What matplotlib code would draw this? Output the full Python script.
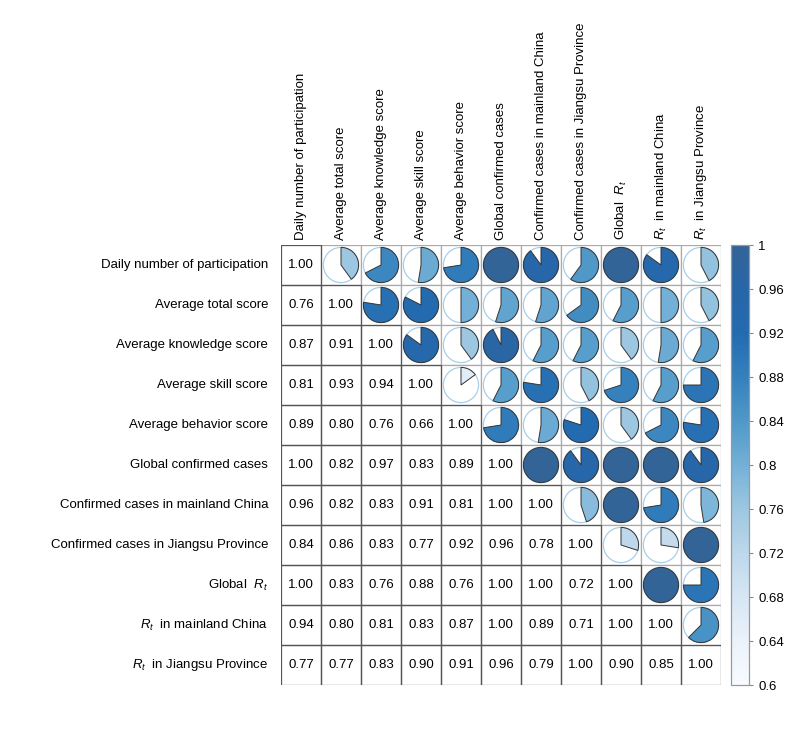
import numpy as np
import matplotlib
matplotlib.use("Agg")
import matplotlib.pyplot as plt
from matplotlib.patches import Wedge, Circle, Rectangle
from matplotlib.colors import LinearSegmentedColormap, Normalize
import matplotlib.cm as cm

plt.rcParams['font.family'] = ['Liberation Sans', 'DejaVu Sans']
plt.rcParams['mathtext.fontset'] = 'custom'
plt.rcParams['mathtext.rm'] = 'Liberation Sans'
plt.rcParams['mathtext.it'] = 'Liberation Sans:italic'

labels = [
    "Daily number of participation",
    "Average total score",
    "Average knowledge score",
    "Average skill score",
    "Average behavior score",
    "Global confirmed cases",
    "Confirmed cases in mainland China",
    "Confirmed cases in Jiangsu Province",
    r"Global  $R_t$",
    r"$R_t$  in mainland China",
    r"$R_t$  in Jiangsu Province",
]

lower_rows = [
    [],
    [0.76],
    [0.87, 0.91],
    [0.81, 0.93, 0.94],
    [0.89, 0.80, 0.76, 0.66],
    [1.00, 0.82, 0.97, 0.83, 0.89],
    [0.96, 0.82, 0.83, 0.91, 0.81, 1.00],
    [0.84, 0.86, 0.83, 0.77, 0.92, 0.96, 0.78],
    [1.00, 0.83, 0.76, 0.88, 0.76, 1.00, 1.00, 0.72],
    [0.94, 0.80, 0.81, 0.83, 0.87, 1.00, 0.89, 0.71, 1.00],
    [0.77, 0.77, 0.83, 0.90, 0.91, 0.96, 0.79, 1.00, 0.90, 0.85],
]

cbar_ticks = [0.6, 0.64, 0.68, 0.72, 0.76, 0.8, 0.84, 0.88, 0.92, 0.96, 1.0]
cbar_ticklabels = ["0.6", "0.64", "0.68", "0.72", "0.76", "0.8", "0.84", "0.88", "0.92", "0.96", "1"]

n = len(labels)
M = np.eye(n)
for i, row in enumerate(lower_rows):
    for j, v in enumerate(row):
        M[i, j] = v
        M[j, i] = v

vmin, vmax = 0.6, 1.0
stops = [
    (0.00, "#F7FBFF"), (0.10, "#EAF2FA"), (0.20, "#D6E6F4"), (0.30, "#BCD7EB"),
    (0.40, "#9DC7E1"), (0.50, "#74B0D7"), (0.60, "#4F98C8"), (0.70, "#3581BD"),
    (0.80, "#236BB0"), (0.90, "#2766A8"), (1.00, "#336497"),
]
cmap = LinearSegmentedColormap.from_list("corrblues", stops)
norm = Normalize(vmin, vmax)

W, H = 800, 733
fig = plt.figure(figsize=(W / 100, H / 100), dpi=100)
gx0, gy0, gsz = 281, 245, 440
ax = fig.add_axes([gx0 / W, (H - gy0 - gsz) / H, gsz / W, gsz / H])
ax.set_xlim(0, n)
ax.set_ylim(0, n)
ax.axis('off')

fs = 9.5
# upper cells first (light edges), then lower (dark edges)
for i in range(n):
    for j in range(n):
        if j > i:
            y = n - i - 1
            ax.add_patch(Rectangle((j, y), 1, 1, facecolor='white', edgecolor='#aaaaaa', lw=0.9, zorder=1))
for i in range(n):
    for j in range(n):
        if j <= i:
            y = n - i - 1
            ax.add_patch(Rectangle((j, y), 1, 1, facecolor='none', edgecolor='#555555', lw=0.9, zorder=2))

for i in range(n):
    for j in range(n):
        cx, cy = j + 0.5, n - i - 0.5
        v = M[i, j]
        if j <= i:
            ax.text(cx, cy, f"{v:.2f}", ha='center', va='center', fontsize=fs, zorder=3)
        else:
            r = 0.44
            f = (v - vmin) / (vmax - vmin)
            ax.add_patch(Circle((cx, cy), r, facecolor='white', edgecolor='#a9cfe6', lw=0.9, zorder=3))
            if f > 0:
                ax.add_patch(Wedge((cx, cy), r, 90 - 360 * f, 90, facecolor=cmap(norm(v)),
                                   edgecolor='#333333', lw=0.7, zorder=4))

for i, lab in enumerate(labels):
    ax.text(-0.32, n - i - 0.5, lab, ha='right', va='center', fontsize=fs)
    ax.text(i + 0.5, n + 0.12, lab, ha='center', va='bottom', rotation=90, fontsize=fs)

cax = fig.add_axes([731 / W, (H - gy0 - gsz) / H, 18 / W, gsz / H])
sm = cm.ScalarMappable(norm=norm, cmap=cmap)
cb = fig.colorbar(sm, cax=cax)
cb.set_ticks(cbar_ticks)
cb.set_ticklabels(cbar_ticklabels)
cb.outline.set_edgecolor('#999999')
cb.outline.set_linewidth(0.9)
cax.tick_params(labelsize=fs, length=3, color='#888888', width=0.8)

fig.savefig("out.png", dpi=100)
